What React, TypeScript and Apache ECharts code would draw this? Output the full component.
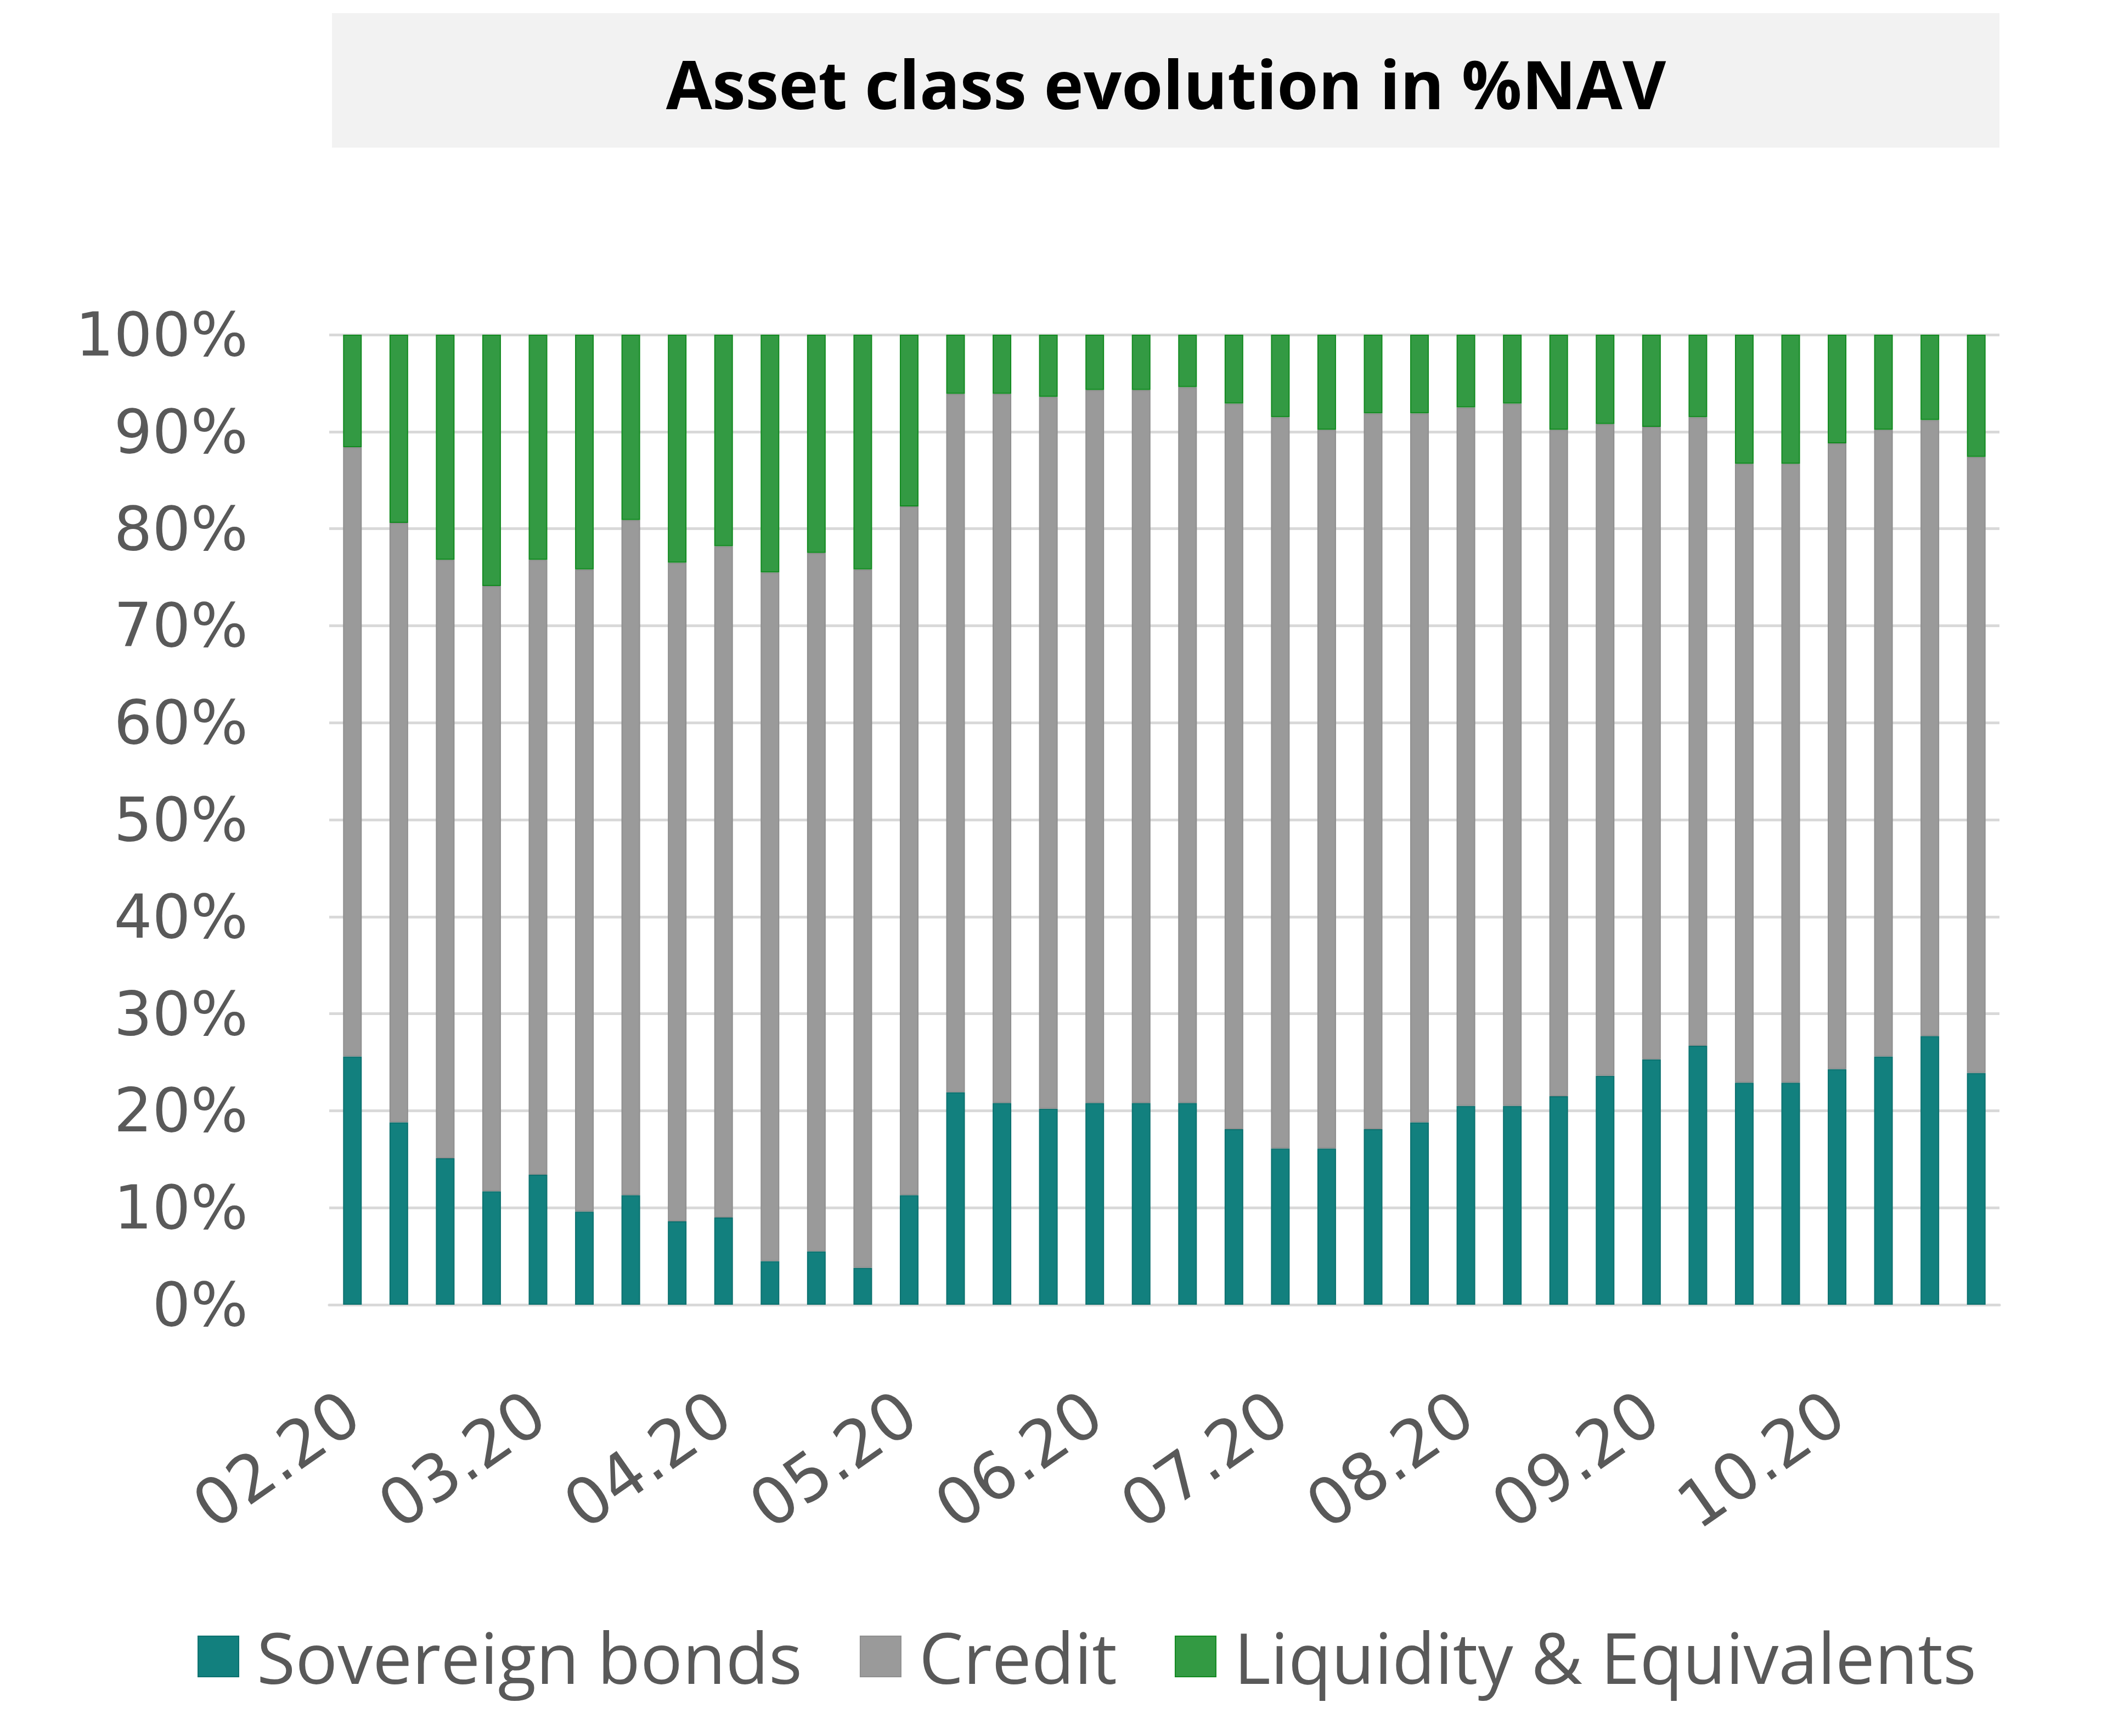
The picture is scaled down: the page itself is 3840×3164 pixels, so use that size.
import React, { useEffect, useRef } from "react";
import * as echarts from "echarts";

const monthLabels = ["02.20", "03.20", "04.20", "05.20", "06.20", "07.20", "08.20", "09.20", "10.20"];
const weeks = [
  "W1", "W2", "W3", "W4", "W5", "W6", "W7", "W8", "W9", "W10", "W11", "W12",
  "W13", "W14", "W15", "W16", "W17", "W18", "W19", "W20", "W21", "W22", "W23", "W24",
  "W25", "W26", "W27", "W28", "W29", "W30", "W31", "W32", "W33", "W34", "W35", "W36",
];
const sovereign = [
  25.6, 18.8, 15.1, 11.7, 13.4, 9.6, 11.3, 8.6, 9.0, 4.5, 5.5, 3.8,
  11.3, 21.9, 20.8, 20.2, 20.8, 20.8, 20.8, 18.1, 16.1, 16.1, 18.1, 18.8,
  20.5, 20.5, 21.5, 23.6, 25.3, 26.7, 22.9, 22.9, 24.3, 25.6, 27.7, 23.9,
];
const credit = [
  62.8, 61.8, 61.7, 62.4, 63.4, 66.2, 69.6, 67.9, 69.2, 71.0, 72.0, 72.0,
  71.0, 72.0, 73.1, 73.4, 73.5, 73.5, 73.8, 74.8, 75.4, 74.1, 73.8, 73.1,
  72.0, 72.4, 68.7, 67.2, 65.2, 64.8, 63.8, 63.8, 64.5, 64.6, 63.5, 63.5,
];
const liquidity = [
  11.6, 19.4, 23.2, 25.9, 23.2, 24.2, 19.1, 23.5, 21.8, 24.5, 22.5, 24.2,
  17.7, 6.1, 6.1, 6.4, 5.7, 5.7, 5.4, 7.1, 8.5, 9.8, 8.1, 8.1,
  7.5, 7.1, 9.8, 9.2, 9.5, 8.5, 13.3, 13.3, 11.2, 9.8, 8.8, 12.6,
];
const yTicks = [0, 10, 20, 30, 40, 50, 60, 70, 80, 90, 100];

const TEXT = "#595959";

export default function App() {
  const ref = useRef<HTMLDivElement>(null);
  useEffect(() => {
    if (!ref.current) return;
    const chart = echarts.init(ref.current, null, { renderer: "svg" });
    const barCommon = {
      type: "bar",
      stack: "total",
      barWidth: 34,
    };
    chart.setOption({
      animation: false,
      backgroundColor: "#ffffff",
      graphic: [
        {
          type: "rect",
          shape: { x: 605, y: 24, width: 3039, height: 245 },
          style: { fill: "#f2f2f2" },
          silent: true,
        },
        {
          type: "text",
          x: 2125,
          y: 152,
          style: {
            text: "Asset class evolution in %NAV",
            fill: "#000000",
            font: "bold 122px 'Open Sans', sans-serif",
            textAlign: "center",
            textVerticalAlign: "middle",
          },
        },
      ],
      grid: { left: 600, right: 196, top: 610, bottom: 786, containLabel: false },
      legend: {
        data: ["Sovereign bonds", "Credit", "Liquidity & Equivalents"],
        left: 355,
        top: 2950,
        itemWidth: 74,
        itemHeight: 74,
        itemGap: 105,
        icon: "rect",
        textStyle: {
          color: TEXT,
          fontSize: 128,
          fontFamily: "'Open Sans', sans-serif",
          padding: [0, 0, 0, 28],
        },
      },
      xAxis: {
        type: "category",
        data: weeks,
        boundaryGap: true,
        axisLine: { show: true, lineStyle: { color: "#d9d9d9", width: 5 } },
        axisTick: { show: false },
        axisLabel: {
          interval: 0,
          rotate: 35,
          margin: 185,
          color: TEXT,
          fontSize: 118,
          fontFamily: "'DejaVu Sans', sans-serif",
          formatter: (_v: string, i: number) => (i % 4 === 0 ? monthLabels[i / 4] : ""),
        },
      },
      yAxis: {
        type: "value",
        min: 0,
        max: 100,
        interval: 10,
        axisLine: { show: false },
        axisTick: { show: false },
        splitLine: { lineStyle: { color: "#d9d9d9", width: 5 } },
        axisLabel: {
          margin: 148,
          color: TEXT,
          fontSize: 110,
          fontFamily: "'DejaVu Sans', sans-serif",
          formatter: (v: number) => (yTicks.includes(v) ? `${v}%` : ""),
        },
      },
      series: [
        {
          ...barCommon,
          name: "Sovereign bonds",
          data: sovereign,
          itemStyle: { color: "#12807e", borderColor: "#0c716f", borderWidth: 2 },
        },
        {
          ...barCommon,
          name: "Credit",
          data: credit,
          itemStyle: { color: "#9a9a9a", borderColor: "#8f8f8f", borderWidth: 2 },
        },
        {
          ...barCommon,
          name: "Liquidity & Equivalents",
          data: liquidity,
          itemStyle: { color: "#339a43", borderColor: "#128a20", borderWidth: 2 },
        },
      ],
    });
    return () => chart.dispose();
  }, []);
  return (
    <div
      ref={ref}
      style={{ position: "fixed", left: 0, top: 0, width: 3840, height: 3164 }}
    />
  );
}
